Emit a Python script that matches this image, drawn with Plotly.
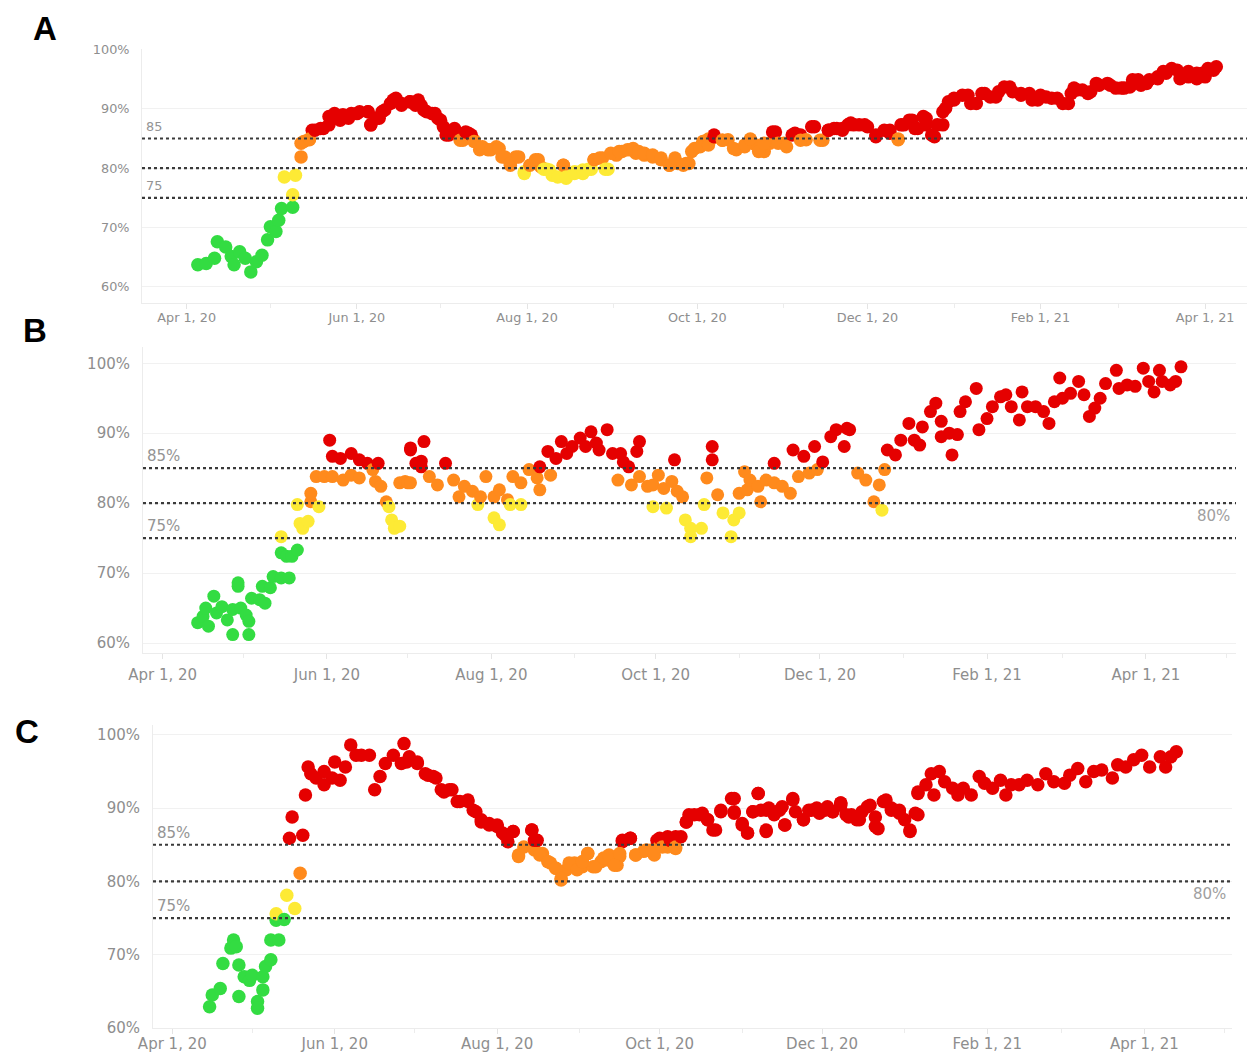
import pandas as pd
import plotly.graph_objects as go

# ---------------- data (day offset from 2020-04-01, percent) ----------------
BASE_DATE = "2020-04-01"

a_day = [4, 7, 10, 11, 14, 16, 17, 19, 21, 23, 25, 27, 29, 30, 32, 33, 34, 35, 38, 38, 39, 41, 42, 44, 45, 48, 51, 53, 55, 58,
         61, 65, 66, 69, 70, 74, 77, 80, 82, 83, 85, 88, 91, 93, 94, 96, 99, 101, 103, 105, 108, 111, 113, 116, 118, 121, 125,
         127, 129, 131, 135, 136, 139, 142, 144, 146, 149, 151, 154, 156, 159, 161, 164, 167, 170, 173, 176, 179, 182, 185,
         188, 189, 192, 194, 197, 200, 202, 204, 207, 209, 211, 214, 217, 220, 222, 225, 228, 230, 233, 235, 237, 239, 243,
         247, 252, 255, 257, 260, 262, 265, 268, 271, 272, 275, 280, 283, 286, 290, 295, 299, 302, 305, 308, 312, 316, 319,
         323, 327, 331, 335, 338, 341, 344, 348, 351, 355, 359, 362, 365, 368, 369,
         41, 44, 46, 49, 51, 53, 56, 59, 62, 65, 66, 68, 71, 73, 75, 77, 80, 83, 84, 86, 89, 90, 92, 93, 96, 98, 100, 102,
         103, 106, 109, 112, 114, 116, 119, 121, 123, 126, 128, 130, 133, 135, 136, 139, 142, 145, 146, 148, 150, 152, 155,
         158, 160, 162, 164, 167, 170, 173, 175, 178, 180, 181, 184, 187,
         187, 189, 192, 196, 200, 202, 205, 207, 210, 212, 215, 218, 220, 224, 227, 230, 232, 235, 238, 241, 244, 247, 250,
         252, 255, 256, 259, 261, 264, 265, 267, 269, 271, 273, 275, 278, 281, 285, 288, 291, 293, 296, 299, 303, 306, 310,
         314, 317, 318, 321, 324, 326, 330, 333, 336, 339, 342, 345, 348, 350, 353, 356, 359, 362, 364, 366]
a_val = [63.7, 63.9, 64.8, 67.6, 66.7, 65.1, 63.7, 65.9, 64.8, 62.5, 64.2, 65.3, 67.9, 70.1, 69.3, 71.2, 73.2, 78.5, 73.4, 75.5,
         78.8, 81.9, 84.5, 84.8, 86.4, 86.7, 87.3, 89.0, 88.1, 88.4, 89.2, 89.5, 87.3, 88.4, 89.5, 91.5, 90.6, 91.2, 90.6, 91.5,
         89.8, 89.2, 88.1, 86.4, 85.6, 86.4, 84.7, 85.9, 84.7, 83.1, 83.1, 83.6, 81.9, 80.5, 81.9, 79.1, 81.4, 80.2, 79.8, 78.8,
         80.5, 78.3, 79.4, 79.1, 79.8, 81.4, 81.7, 79.8, 82.2, 82.8, 83.1, 82.5, 82.2, 81.9, 81.4, 80.5, 80.8, 80.8, 83.3, 84.5,
         84.9, 85.6, 84.7, 84.8, 83.1, 83.6, 84.8, 83.9, 82.8, 84.2, 86.1, 84.2, 85.6, 85.6, 84.8, 87.0, 84.7, 86.4, 86.7, 86.4,
         87.3, 87.3, 87.3, 85.3, 86.4, 84.8, 87.3, 88.1, 86.7, 88.4, 85.3, 87.3, 90.1, 91.5, 92.3, 90.9, 92.6, 92.0, 93.7, 92.3,
         92.6, 91.5, 92.0, 91.8, 90.9, 93.2, 92.6, 94.0, 94.0, 93.5, 93.7, 94.9, 94.3, 95.1, 96.0, 96.5, 95.4, 96.0, 95.4, 96.5,
         97.1,
         84.2, 84.9, 86.4, 86.7, 88.7, 89.2, 89.0, 89.2, 89.5, 89.5, 87.3, 88.4, 89.8, 90.9, 91.8, 90.9, 91.2, 91.2, 90.6, 89.5,
         89.2, 88.4, 87.0, 85.6, 86.7, 84.7, 86.1, 85.6, 84.5, 83.6, 83.1, 83.3, 81.9, 80.8, 81.9, 79.4, 80.5, 81.4, 79.8, 79.7,
         78.5, 80.5, 78.5, 79.1, 79.7, 79.8, 81.4, 81.7, 79.8, 82.5, 82.8, 83.1, 83.3, 82.8, 82.5, 82.2, 81.7, 80.5, 81.7, 80.5,
         80.8, 82.8, 83.6, 84.9,
         83.9, 85.3, 84.7, 83.3, 83.9, 84.9, 82.8, 84.2, 86.1, 84.2, 83.6, 85.9, 84.7, 87.0, 84.7, 86.4, 86.7, 86.7, 87.6, 87.3,
         87.0, 85.6, 86.4, 85.9, 84.9, 87.3, 88.1, 86.7, 88.7, 87.3, 85.6, 87.3, 89.5, 91.2, 91.8, 92.3, 90.9, 92.6, 92.0, 92.9,
         93.7, 92.9, 92.6, 91.5, 92.3, 91.8, 90.9, 92.6, 93.5, 93.2, 92.9, 94.3, 94.3, 93.5, 93.5, 94.9, 94.0, 94.9, 95.4, 96.3,
         96.8, 95.1, 96.3, 95.1, 96.0, 96.8]

b_day = [13, 15, 16, 17, 19, 20, 22, 24, 26, 26, 28, 28, 29, 31, 32, 32, 33, 36, 37, 38, 40, 41, 44, 44, 44, 46, 47, 48, 50, 50,
         51, 52, 54, 55, 55, 57, 58, 60, 62, 63, 63, 66, 67, 70, 70, 73, 73, 76, 78, 79, 80, 81, 83, 84, 85, 86, 88, 88, 90, 91,
         92, 92, 92, 94, 96, 96, 97, 99, 102, 105, 108, 110, 112, 115, 117, 118, 120, 123, 123, 125, 125, 128, 129, 130, 133,
         133, 136, 139, 140, 140, 143, 144, 146, 148, 150, 152, 155, 157, 159, 161, 162, 165, 167, 169, 170, 171, 173, 174, 176,
         177, 177, 180, 182, 182, 184, 186, 187, 189, 190, 191, 193, 194, 196, 196, 200, 201, 202, 204, 204, 206, 208, 211, 212,
         214, 214, 216, 217, 218, 221, 222, 224, 227, 227, 230, 233, 234, 236, 238, 240, 242, 243, 245, 248, 250, 253, 254, 255,
         258, 261, 264, 266, 267, 268, 269, 272, 274, 277, 279, 281, 282, 285, 287, 289, 289, 292, 293, 295, 296, 298, 302, 303,
         306, 308, 311, 313, 315, 318, 319, 321, 324, 327, 329, 331, 333, 334, 337, 340, 342, 344, 346, 348, 350, 354, 355, 358,
         361, 364, 366, 368, 370, 371, 374, 376, 378]
b_val = [62.9, 63.8, 65.0, 62.4, 66.7, 64.3, 65.2, 63.3, 61.2, 64.8, 68.1, 68.6, 65.0, 64.0, 63.1, 61.2, 66.4, 66.2, 68.1, 65.7,
         67.9, 69.5, 69.3, 72.9, 75.2, 72.4, 69.3, 72.4, 73.3, 79.8, 77.1, 76.4, 77.4, 80.2, 81.4, 83.8, 79.5, 83.8, 89.0, 86.7,
         83.8, 86.4, 83.3, 84.0, 87.1, 86.2, 83.6, 85.7, 84.8, 83.1, 85.7, 82.4, 80.2, 79.5, 77.6, 76.4, 82.9, 76.7, 83.1, 82.9,
         82.9, 87.6, 87.9, 85.7, 86.0, 85.2, 88.8, 83.8, 82.6, 85.7, 83.3, 80.9, 82.4, 81.7, 79.8, 80.9, 83.8, 80.9, 77.9, 76.9,
         81.9, 80.5, 79.8, 83.8, 82.9, 79.8, 84.8, 83.6, 81.9, 85.2, 87.4, 84.0, 86.4, 88.8, 87.1, 88.1, 89.3, 88.1, 90.2, 88.6,
         87.6, 90.5, 87.1, 83.3, 87.1, 85.9, 85.2, 82.6, 87.4, 88.8, 83.8, 82.4, 82.6, 79.5, 84.0, 82.1, 79.3, 83.1, 86.2, 81.7,
         80.9, 77.6, 76.4, 75.2, 76.4, 79.8, 83.6, 86.2, 88.1, 81.2, 78.6, 75.2, 77.6, 78.6, 81.4, 84.5, 81.9, 83.3, 82.4, 80.2,
         83.3, 85.7, 82.9, 82.4, 81.4, 87.6, 83.8, 86.7, 84.3, 88.1, 84.8, 85.9, 89.5, 90.5, 88.1, 90.7, 90.5, 84.3, 83.3, 80.2,
         82.6, 79.0, 84.8, 87.6, 86.9, 89.0, 91.4, 89.0, 88.3, 90.9, 93.1, 94.3, 91.7, 89.5, 90.0, 86.9, 89.8, 93.1, 94.5, 96.4,
         90.5, 92.1, 93.8, 95.2, 95.5, 93.8, 91.9, 95.9, 93.8, 93.8, 93.1, 91.4, 94.5, 97.9, 95.0, 95.7, 97.4, 95.5, 92.4, 93.6,
         95.0, 97.1, 99.0, 96.4, 96.9, 96.7, 99.3, 97.4, 95.9, 99.0, 97.4, 96.9, 97.4, 99.5]

c_day = [14, 15, 18, 19, 22, 23, 24, 25, 25, 27, 29, 30, 32, 32, 34, 34, 35, 37, 37, 39, 39, 40, 42, 43, 44, 45, 46, 48, 49, 50,
         51, 52, 54, 57, 57, 60, 61, 63, 65, 67, 69, 71, 74, 76, 78, 80, 83, 86, 87, 89, 92, 96, 99, 102, 105, 108, 111, 114,
         116, 119, 122, 124, 126, 128, 130, 135, 136, 137, 139, 142, 144, 146, 148, 151, 154, 156, 158, 161, 164, 167, 168, 169,
         172, 174, 177, 180, 182, 183, 186, 186, 189, 189, 193, 194, 198, 201, 204, 206, 211, 211, 214, 216, 218, 220, 223, 223,
         226, 229, 230, 233, 237, 239, 242, 245, 248, 251, 251, 253, 255, 258, 261, 264, 265, 268, 270, 273, 275, 277, 280, 280,
         283, 285, 286, 288, 290, 293, 295, 297, 300, 303, 305, 308, 311, 313, 315, 318, 321, 325, 328, 331, 335, 337, 340, 343,
         346, 349, 353, 355, 358, 361, 364, 367, 371, 373, 375, 377,
         88, 92, 95, 98, 101, 104, 107, 111, 113, 116, 119, 122, 125, 128, 130, 132, 135, 136, 138, 141, 144, 146, 149, 152,
         154, 156, 159, 162, 164, 166, 168, 169, 172, 174, 178, 181, 183, 184, 187, 189, 191, 193, 196, 199, 201, 203, 206,
         210, 211, 214, 216, 218, 220, 221, 223, 224, 228, 230, 233, 234, 237, 240, 243, 246, 248, 251, 254, 257, 259, 262,
         264, 267, 270, 273, 277, 279, 280]
c_val = [62.9, 64.5, 65.4, 68.8, 70.9, 72.0, 71.1, 68.6, 64.3, 67.0, 66.5, 67.2, 63.6, 62.7, 65.2, 67.0, 68.4, 69.3, 72.0, 74.7,
         75.6, 72.0, 74.8, 78.1, 85.9, 88.8, 76.3, 81.1, 86.3, 91.8, 95.6, 94.7, 94.1, 93.2, 95.0, 94.1, 96.3, 93.8, 95.6, 98.6,
         97.2, 97.2, 97.2, 92.5, 94.3, 96.1, 97.2, 96.1, 98.8, 97.0, 96.1, 94.5, 94.1, 92.2, 92.5, 90.9, 90.9, 89.5, 88.1, 87.7,
         87.7, 86.6, 85.4, 86.8, 83.6, 87.0, 84.3, 85.6, 83.8, 82.5, 81.8, 80.2, 81.6, 82.5, 82.0, 83.8, 82.0, 82.7, 82.9, 82.2,
         83.4, 85.4, 85.9, 83.6, 84.1, 84.3, 85.6, 84.8, 84.7, 86.1, 84.5, 86.1, 88.1, 89.1, 89.1, 88.4, 87.0, 89.5, 91.3, 89.3,
         87.9, 86.6, 89.5, 92.0, 89.7, 86.8, 89.1, 90.2, 87.7, 91.1, 88.4, 89.7, 90.0, 89.7, 89.5, 90.4, 90.7, 89.1, 89.1, 88.4,
         90.2, 88.8, 87.2, 91.1, 90.0, 89.7, 88.4, 86.8, 89.1, 92.0, 93.2, 94.7, 91.8, 95.0, 93.6, 92.7, 91.8, 92.7, 91.8, 94.3,
         93.4, 92.7, 93.8, 91.8, 93.2, 93.2, 93.8, 93.2, 94.7, 93.6, 93.4, 94.5, 95.4, 93.6, 95.0, 95.2, 94.1, 95.9, 95.6, 96.6,
         97.2, 95.6, 97.0, 95.6, 97.0, 97.7,
         96.3, 96.3, 94.7, 94.3, 92.5, 92.5, 90.9, 91.1, 89.7, 88.4, 87.9, 87.5, 86.3, 86.8, 83.4, 84.7, 87.0, 85.6, 83.6, 82.7,
         81.8, 80.4, 82.5, 81.6, 82.7, 83.8, 82.0, 83.2, 83.6, 82.2, 83.8, 85.6, 85.9, 83.6, 84.3, 83.6, 85.9, 84.7, 85.6, 84.7,
         86.1, 88.1, 89.1, 89.3, 88.4, 87.0, 89.7, 91.3, 89.5, 87.7, 86.6, 89.5, 92.0, 89.7, 87.0, 90.0, 89.7, 87.7, 91.3, 89.5,
         88.4, 89.7, 89.3, 90.2, 89.5, 90.7, 88.8, 88.4, 89.5, 90.4, 87.5, 90.9, 89.7, 89.3, 87.0, 89.3, 92.2]

tick_dates = ["2020-04-01", "2020-06-01", "2020-08-01", "2020-10-01", "2020-12-01", "2021-02-01", "2021-04-01"]
tick_labels = ["Apr 1, 20", "Jun 1, 20", "Aug 1, 20", "Oct 1, 20", "Dec 1, 20", "Feb 1, 21", "Apr 1, 21"]
minor_dates = ["2020-03-01", "2020-05-01", "2020-07-01", "2020-09-01", "2020-11-01", "2021-01-01", "2021-03-01", "2021-05-01"]
y_ticks = [60, 70, 80, 90, 100]
y_labels = ["60%", "70%", "80%", "90%", "100%"]
ref_lines = [85, 80, 75]

# ---------------- styling / layout ----------------
W, H = 1248, 1057
GREEN, YELLOW, ORANGE, RED = "#33dc42", "#fdea35", "#ff8a1c", "#e50000"
FONT = "DejaVu Sans"
TICK_GREY = "#8e8e8e"


def fx(px):
    return min(max(px / W, 0.0), 1.0)


def fy(py):
    return min(max(1 - py / H, 0.0), 1.0)


def colour(v):
    if v >= 85:
        return RED
    if v >= 80:
        return ORANGE
    if v >= 75:
        return YELLOW
    return GREEN


def to_dates(days):
    return pd.to_datetime(BASE_DATE) + pd.to_timedelta(days, unit="D")


# page-pixel boxes of each plot area: (left, right, top, bottom)
panels = [
    dict(name="A", days=a_day, vals=a_val, box=(142, 1247, 49, 303), xr=["2020-03-16", "2021-04-16"],
         yr=[57.25, 100.1], fs=12.8, ms=13.5, pct=False, right80=False, letter=(45, 28), so=-2),
    dict(name="B", days=b_day, vals=b_val, box=(143, 1236, 347, 653), xr=["2020-03-24 17:00", "2021-05-04 10:00"],
         yr=[58.57, 102.33], fs=15, ms=13, pct=True, right80=True, letter=(35, 330), so=3),
    dict(name="C", days=c_day, vals=c_val, box=(153, 1232, 725, 1028), xr=["2020-03-24 18:00", "2021-05-03 22:00"],
         yr=[60, 101.34], fs=15, ms=13.5, pct=True, right80=True, letter=(27, 731), so=-3),
]

fig = go.Figure()
annotations = []
shapes = []

for i, p in enumerate(panels):
    n = "" if i == 0 else str(i + 1)
    xa, ya = "x" + n, "y" + n
    l, r, t, b = p["box"]
    fig.add_trace(go.Scatter(
        x=to_dates(p["days"]), y=p["vals"], mode="markers", xaxis=xa, yaxis=ya,
        marker=dict(size=p["ms"], color=[colour(v) for v in p["vals"]], line=dict(width=0)),
        showlegend=False, hoverinfo="skip"))

    fig.update_layout(**{
        "xaxis" + n: dict(
            domain=[fx(l), fx(r)], anchor=ya, range=p["xr"], type="date", automargin=False,
            tickmode="array", tickvals=tick_dates, ticktext=tick_labels,
            ticks="outside", ticklen=5, tickcolor="#e4e4e4", showgrid=False, ticklabelstandoff=p["so"],
            showline=True, linecolor="#ececec", linewidth=1, zeroline=False,
            tickfont=dict(family=FONT, size=p["fs"], color=TICK_GREY),
            minor=dict(tickmode="array", tickvals=minor_dates, ticks="outside", ticklen=4,
                       tickcolor="#ececec", showgrid=False),
        ),
        "yaxis" + n: dict(
            domain=[fy(b), fy(t)], anchor=xa, range=p["yr"], automargin=False,
            tickmode="array", tickvals=y_ticks, ticktext=y_labels,
            ticks="outside", ticklen=9, tickcolor="rgba(0,0,0,0)",
            showgrid=True, gridcolor="#f1f1f1", gridwidth=1,
            showline=True, linecolor="#ececec", linewidth=1, zeroline=False,
            tickfont=dict(family=FONT, size=p["fs"], color=TICK_GREY),
        ),
    })

    for v in ref_lines:
        shapes.append(dict(type="line", xref=xa + " domain", yref=ya, x0=0, x1=1, y0=v, y1=v,
                           line=dict(color="#3a3a3a", width=2.2, dash="dot"), layer="above"))

    suf = "%" if p["pct"] else ""
    for v in (85, 75):
        annotations.append(dict(xref=xa + " domain", yref=ya, x=0.002, y=v, text=f"{v}{suf}",
                                showarrow=False, xanchor="left", yanchor="middle", yshift=12,
                                font=dict(family=FONT, size=p["fs"], color="#949494")))
    if p["right80"]:
        annotations.append(dict(xref=xa + " domain", yref=ya, x=0.996, y=80, text="80%",
                                showarrow=False, xanchor="right", yanchor="middle", yshift=-13,
                                font=dict(family=FONT, size=p["fs"], color="#a0a0a0")))

    lx, ly = p["letter"]
    annotations.append(dict(xref="paper", yref="paper", x=fx(lx), y=fy(ly), text=f"<b>{p['name']}</b>",
                            showarrow=False, xanchor="center", yanchor="middle",
                            font=dict(family="Liberation Sans, Arial", size=33, color="#000000")))

fig.update_layout(
    width=W, height=H, margin=dict(l=0, r=0, t=0, b=0, pad=0, autoexpand=False),
    paper_bgcolor="white", plot_bgcolor="white",
    shapes=shapes, annotations=annotations,
)

fig.write_html("out.html", config={"displayModeBar": False},
               post_script="document.body.style.margin='0';document.body.style.overflow='hidden';")
